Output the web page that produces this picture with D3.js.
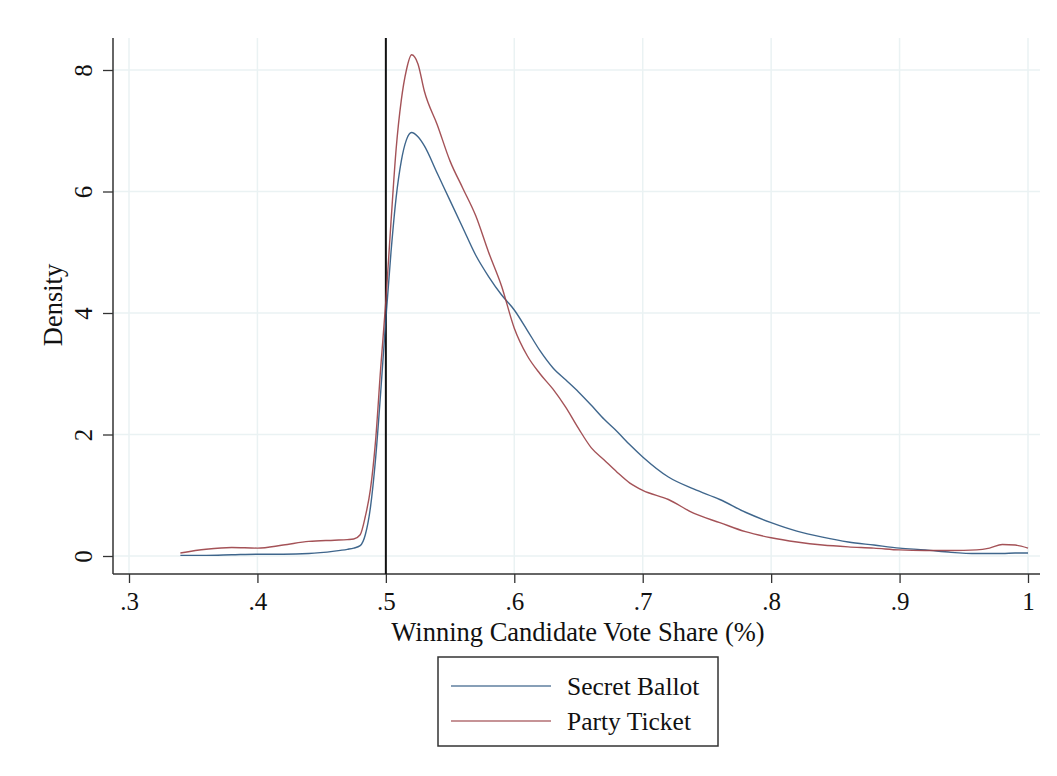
<!DOCTYPE html>
<html><head><meta charset="utf-8">
<script src="https://cdn.jsdelivr.net/npm/d3@7"></script>
<style>body{margin:0;background:#fff}svg{display:block}text{font-family:"Liberation Serif","DejaVu Serif",serif;fill:#111}</style>
</head><body><svg id="c" width="1057" height="776"></svg>
<script>
const xTicks=[0.3,0.4,0.5,0.6,0.7,0.8,0.9,1.0];
const xTickLabels=[".3",".4",".5",".6",".7",".8",".9","1"];
const yTicks=[0,2,4,6,8];
const grid=[0.34,0.36,0.38,0.40,0.42,0.44,0.46,0.47,0.475,0.48,0.484,0.488,0.492,0.496,0.5,0.504,0.508,0.512,0.516,0.52,0.525,0.53,0.54,0.55,0.56,0.57,0.58,0.59,0.60,0.61,0.62,0.63,0.64,0.65,0.66,0.67,0.68,0.69,0.70,0.72,0.74,0.76,0.78,0.80,0.82,0.84,0.86,0.88,0.90,0.92,0.94,0.96,0.97,0.98,0.99,1.0];
const secretBallot=[0.01,0.01,0.02,0.03,0.03,0.04,0.08,0.11,0.13,0.17,0.35,0.8,1.6,2.7,3.9,5.0,5.9,6.5,6.85,6.97,6.9,6.75,6.3,5.85,5.4,4.95,4.6,4.3,4.05,3.72,3.38,3.1,2.9,2.7,2.48,2.25,2.05,1.83,1.63,1.3,1.1,0.93,0.72,0.55,0.41,0.31,0.23,0.18,0.13,0.1,0.06,0.04,0.04,0.04,0.05,0.05];
const partyTicket=[0.05,0.11,0.14,0.13,0.18,0.24,0.26,0.27,0.28,0.35,0.65,1.1,1.9,3.1,4.2,5.5,6.7,7.5,8.0,8.25,8.1,7.65,7.1,6.5,6.05,5.6,5.0,4.45,3.75,3.3,3.0,2.75,2.45,2.1,1.78,1.58,1.38,1.2,1.08,0.93,0.70,0.55,0.4,0.3,0.23,0.18,0.15,0.13,0.1,0.09,0.09,0.1,0.13,0.19,0.18,0.13];
const seriesNames=["Secret Ballot","Party Ticket"];
const seriesColors=["#2a5580","#9a3f45"];
const refLine=0.5;

const svg=d3.select("#c");
const x=d3.scaleLinear().domain([0.3,1.0]).range([129,1028]);
const y=d3.scaleLinear().domain([0,8]).range([556,70]);
const pL=113,pR=1040,pT=38,pB=574;

// gridlines
svg.append("g").selectAll("line").data(xTicks).join("line")
 .attr("x1",d=>x(d)).attr("x2",d=>x(d)).attr("y1",pT).attr("y2",pB)
 .attr("stroke","#eaf2f3").attr("stroke-width",1.5);
svg.append("g").selectAll("line").data(yTicks).join("line")
 .attr("y1",d=>y(d)).attr("y2",d=>y(d)).attr("x1",pL).attr("x2",pR)
 .attr("stroke","#eaf2f3").attr("stroke-width",1.5);

// axes
const xAxis=d3.axisBottom(x).tickValues(xTicks).tickFormat((d,i)=>xTickLabels[i]).tickSize(9).tickPadding(9).tickSizeOuter(0);
const gx=svg.append("g").attr("transform",`translate(0,${pB})`).call(xAxis);
gx.select(".domain").remove();
gx.selectAll("line").attr("stroke","#333").attr("stroke-width",1.3);
gx.selectAll("text").attr("font-size",25).style("font-family","Liberation Serif").attr("fill","#111");
const yAxis=d3.axisLeft(y).tickValues(yTicks).tickSize(10).tickPadding(0).tickSizeOuter(0);
const gy=svg.append("g").attr("transform",`translate(${pL},0)`).call(yAxis);
gy.select(".domain").remove();
gy.selectAll("line").attr("stroke","#333").attr("stroke-width",1.3);
gy.selectAll("text").attr("font-size",25).style("font-family","Liberation Serif").attr("fill","#111")
 .attr("x",0).attr("dy",0).attr("text-anchor","middle")
 .attr("transform","translate(-21,0) rotate(-90)");
svg.append("line").attr("x1",pL).attr("x2",pR).attr("y1",pB).attr("y2",pB).attr("stroke","#333").attr("stroke-width",1.5);
svg.append("line").attr("x1",pL).attr("x2",pL).attr("y1",pT).attr("y2",pB).attr("stroke","#333").attr("stroke-width",1.5);

// reference line
svg.append("line").attr("x1",x(refLine)).attr("x2",x(refLine)).attr("y1",pT).attr("y2",pB).attr("stroke","#111").attr("stroke-width",2);

// curves
const line=d3.line().x((d,i)=>x(grid[i])).y(d=>y(d)).curve(d3.curveMonotoneX);
[secretBallot,partyTicket].forEach((s,k)=>{
 svg.append("path").attr("d",line(s)).attr("fill","none").attr("stroke",seriesColors[k]).attr("stroke-width",1.4).attr("opacity",0.9);
});

// titles
svg.append("text").attr("x",578).attr("y",641).attr("text-anchor","middle").attr("font-size",26.5).text("Winning Candidate Vote Share (%)");
svg.append("text").attr("transform","translate(62,305) rotate(-90)").attr("text-anchor","middle").attr("font-size",26.5).text("Density");

// legend
const lg=svg.append("g");
lg.append("rect").attr("x",438).attr("y",657).attr("width",280).attr("height",89).attr("fill","#fff").attr("stroke","#333").attr("stroke-width",1.5);
seriesNames.forEach((n,k)=>{
 const yy=686+k*35;
 lg.append("line").attr("x1",451).attr("x2",551).attr("y1",yy).attr("y2",yy).attr("stroke",seriesColors[k]).attr("stroke-width",1.4).attr("opacity",0.75);
 lg.append("text").attr("x",567).attr("y",yy+9).attr("font-size",25.5).text(n);
});
</script></body></html>
